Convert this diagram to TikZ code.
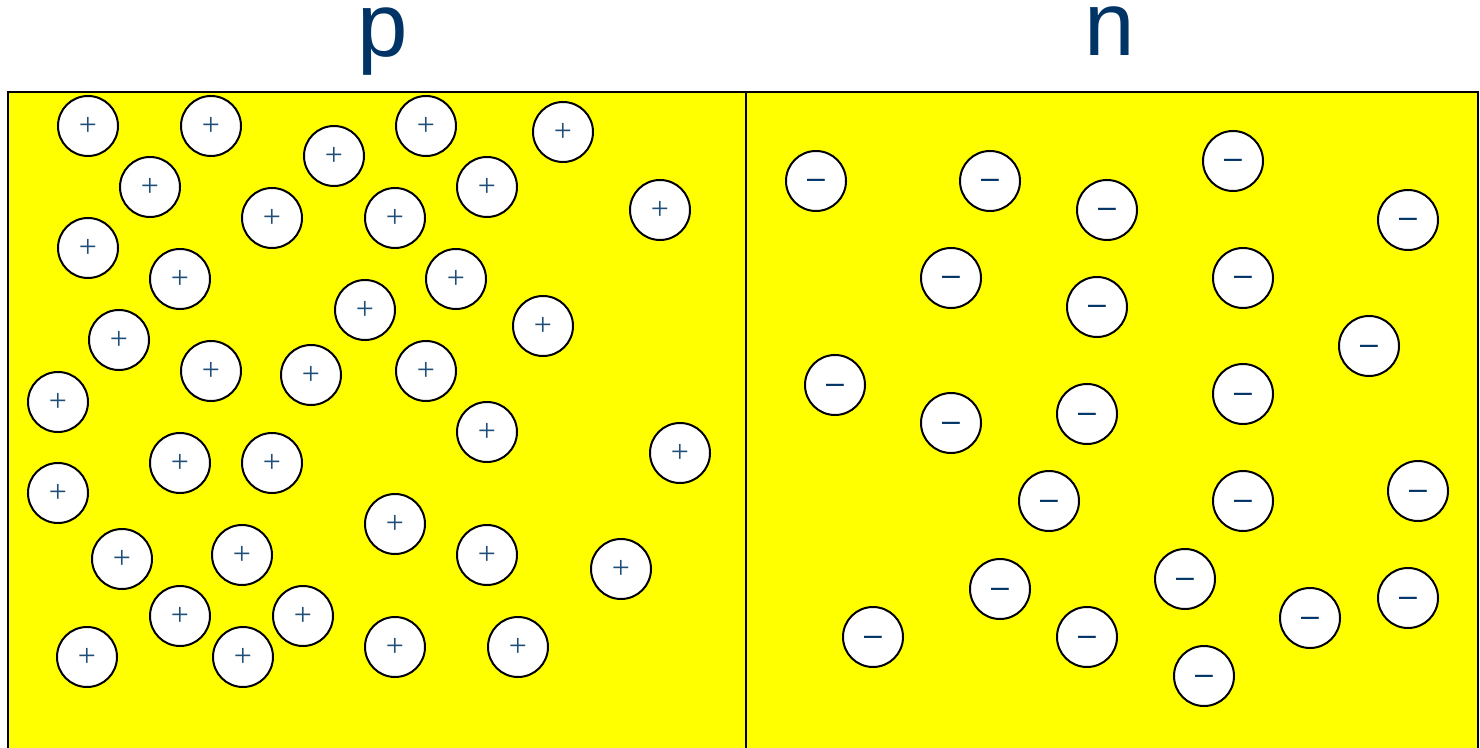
\documentclass[tikz,border=0pt]{standalone}
\usepackage{fontspec}
\setmainfont{Liberation Sans}
\newfontfamily\plusfont{Liberation Serif}
\definecolor{lbl}{HTML}{003366}
\definecolor{plusc}{HTML}{1F4E79}
\definecolor{bgy}{HTML}{FFFF00}
\begin{document}
\begin{tikzpicture}[x=0.75pt,y=-0.75pt,
  carrier/.style={circle,draw=black,line width=1.5pt,fill=white,minimum size=45pt,inner sep=0pt},
  hole/.style={carrier,text=plusc,font=\plusfont\fontsize{24}{24}\selectfont},
  electron/.style={carrier,text=lbl,font=\fontsize{24}{24}\selectfont,text height=12pt,text depth=0pt},
  lab/.style={text=lbl,font=\fontsize{68}{68}\selectfont,anchor=base,text height=37pt,text depth=14pt,inner sep=0pt}]
\useasboundingbox (0,0) rectangle (1480,748);
\fill[bgy] (8,92) rectangle (1479,748);
\draw[line width=1.5pt] (8,748) -- (8,92) -- (1478,92) -- (1478,748);
\draw[line width=1pt] (746,92) -- (746,748);
\node[lab] (p) at (383,57) {p};
\node[lab] (n) at (1110,56) {n};
\foreach \x/\y [count=\i] in {88/126,211/126,426/126,563/132,334/156,150/187,487/187,272/218,395/218,660/210,88/248,180/279,456/279,365/310,543/326,119/340,211/371,311/375,426/371,58/402,487/432,180/463,272/463,680/453,58/493,395/524,122/559,242/555,487/555,621/569,180/616,303/616,87/657,243/657,395/647,518/647}
  \node[hole] (p\i) at (\x,\y) {+};
\foreach \x/\y [count=\i] in {816/181,990/181,1233/161,1107/210,1408/220,951/278,1243/278,1097/307,1369/346,835/385,1087/414,951/423,1243/394,1049/501,1243/501,1418/491,1000/589,1185/579,873/637,1087/637,1310/618,1408/598,1204/676}
  \node[electron] (n\i) at (\x,\y) {–};
\end{tikzpicture}
\end{document}
